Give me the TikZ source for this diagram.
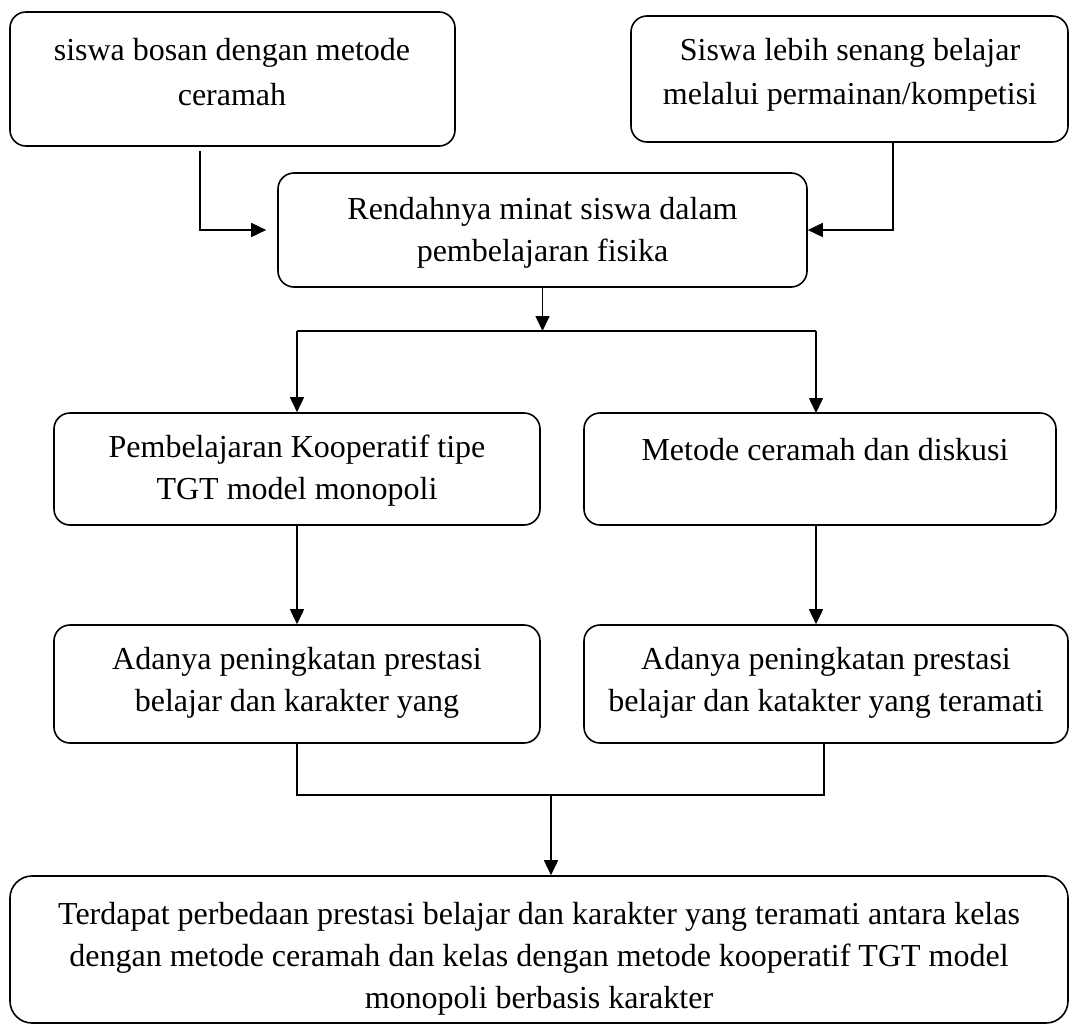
\documentclass[tikz,border=0pt]{standalone}
\usepackage{fontspec}
\setmainfont{Liberation Serif}
\usetikzlibrary{arrows.meta}
\begin{document}
\begin{tikzpicture}[x=1pt,y=-1pt,
 box/.style={draw, line width=1.6pt, rounded corners=16pt, inner sep=0pt},
 txt/.style={align=center, inner sep=0pt, font=\fontsize{32}{42}\selectfont},
 txtw/.style={align=center, inner sep=0pt, font=\fontsize{32}{44.5}\selectfont},
 arr/.style={line width=1.6pt, -{Triangle[length=15pt,width=14pt]}},
 ln/.style={line width=1.3pt}]
\useasboundingbox (0,0) rectangle (1070,1025);
% boxes
\node[box, minimum width=445pt, minimum height=134pt] (b1) at (232.5,79) {};
\node[box, minimum width=437pt, minimum height=126pt] (b2) at (849.5,79) {};
\node[box, minimum width=529pt, minimum height=114pt] (b3) at (542.5,230) {};
\node[box, minimum width=486pt, minimum height=112pt] (b4) at (297,469) {};
\node[box, minimum width=472pt, minimum height=112pt] (b5) at (820,469) {};
\node[box, minimum width=486pt, minimum height=118pt] (b6) at (297,684) {};
\node[box, minimum width=484pt, minimum height=118pt] (b7) at (826,684) {};
\node[box, rounded corners=22pt, minimum width=1058pt, minimum height=147pt] (b8) at (539,949.5) {};
% texts
\node[txtw] (t1) at (232,72) {siswa bosan dengan metode\\ceramah};
\node[txtw] (t2) at (850,75) {Siswa lebih senang belajar\\melalui permainan/kompetisi};
\node[txt] (t3) at (542.5,232.5) {Rendahnya minat siswa dalam\\pembelajaran fisika};
\node[txt] (t4) at (297,471) {Pembelajaran Kooperatif tipe\\TGT model monopoli};
\node[txt] (t5) at (825,450) {Metode ceramah dan diskusi};
\node[txt] (t6) at (297,683) {Adanya peningkatan prestasi\\belajar dan karakter yang};
\node[txt] (t7) at (826,683) {Adanya peningkatan prestasi\\belajar dan katakter yang teramati};
\node[txt] (t8) at (539,959) {Terdapat perbedaan prestasi belajar dan karakter yang teramati antara kelas\\dengan metode ceramah dan kelas dengan metode kooperatif TGT model\\monopoli berbasis karakter};
% connectors
\coordinate (split) at (542.5,331);
\coordinate (join) at (551,795);
\draw[arr, shorten <=4pt, shorten >=11pt] ([xshift=-32.5pt]b1.south) |- (b3.west);
\draw[arr] ([xshift=43.5pt]b2.south) |- (b3.east);
\draw[arr] (b3.south) -- (split);
\draw[line width=1.6pt] (split -| b4.north) -- (split -| 816,0);
\draw[arr] (split -| b4.north) -- (b4.north);
\draw[arr] (split -| 816,0) -- (816,413);
\draw[arr] (b4.south) -- (b6.north);
\draw[arr] ([xshift=-4pt]b5.south) -- ([xshift=-10pt]b7.north);
\draw[ln] (b6.south) |- (join) -| ([xshift=-2pt]b7.south);
\draw[arr] (join) -- (join |- b8.north);
\end{tikzpicture}
\end{document}
